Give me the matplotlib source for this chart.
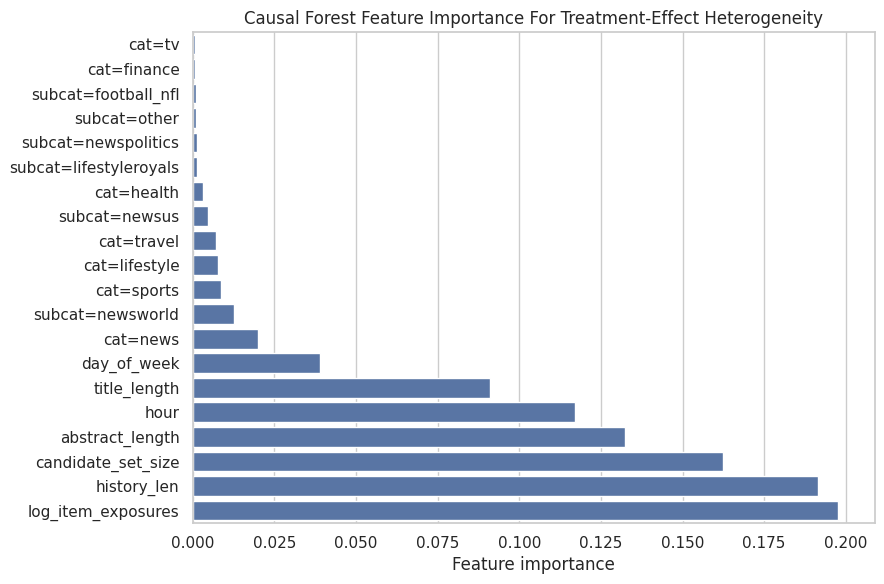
import matplotlib
matplotlib.use("Agg")
import matplotlib.pyplot as plt
import seaborn as sns

features = ["cat=tv","cat=finance","subcat=football_nfl","subcat=other","subcat=newspolitics",
            "subcat=lifestyleroyals","cat=health","subcat=newsus","cat=travel","cat=lifestyle",
            "cat=sports","subcat=newsworld","cat=news","day_of_week","title_length","hour",
            "abstract_length","candidate_set_size","history_len","log_item_exposures"]
importance = [0.0007,0.0006,0.001,0.001,0.0013,0.0013,0.003,0.0047,0.007,0.0078,
              0.0087,0.0126,0.020,0.039,0.091,0.117,0.1325,0.1625,0.1915,0.1975]

sns.set_theme(style="whitegrid")
fig, ax = plt.subplots(figsize=(8.84, 5.84), dpi=100)
sns.barplot(x=importance, y=features, color="#4c72b0", ax=ax)
ax.set_title("Causal Forest Feature Importance For Treatment-Effect Heterogeneity", fontsize=12)
ax.set_xlabel("Feature importance")
ax.set_ylabel("")
ax.set_xlim(0, 0.209)
ax.set_xticks([0,0.025,0.05,0.075,0.1,0.125,0.15,0.175,0.2])
ax.set_xticklabels(["0.000","0.025","0.050","0.075","0.100","0.125","0.150","0.175","0.200"])
fig.subplots_adjust(left=0.218, right=0.99, top=0.945, bottom=0.105)
fig.savefig("out.png")
